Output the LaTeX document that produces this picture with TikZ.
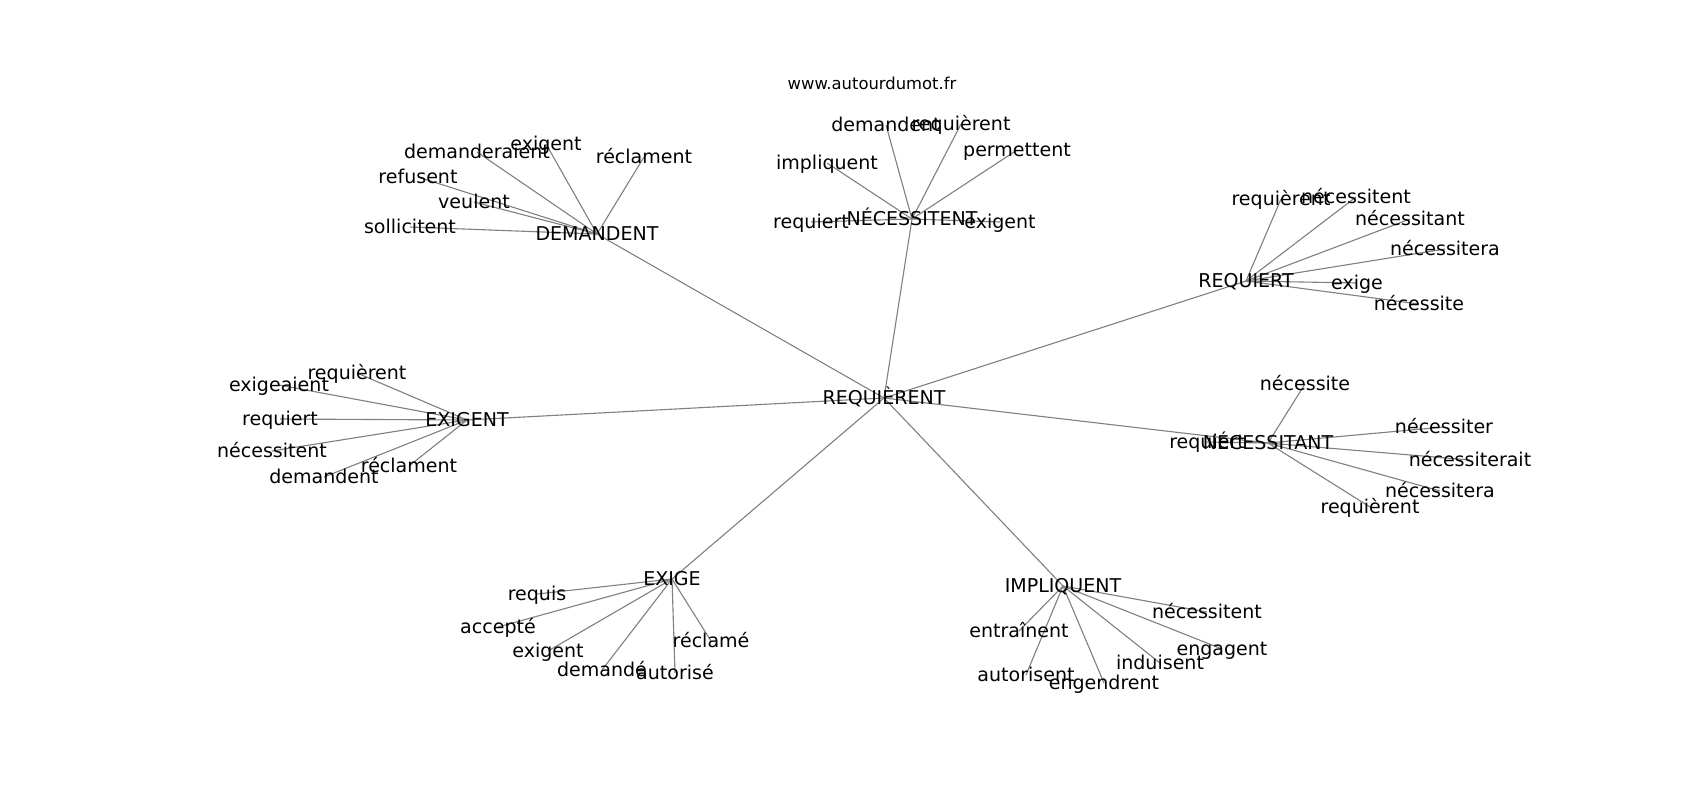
\documentclass[tikz,border=0pt]{standalone}
\usepackage{fontspec}
\setmainfont{DejaVu Sans}
\pgfdeclarelayer{background}
\pgfsetlayers{background,main}
\tikzset{
  lbl/.style={inner sep=0pt, anchor=center, text height=0.9em, text depth=0em, font=\fontsize{13.7pt}{16pt}\selectfont},
  ttl/.style={inner sep=0pt, anchor=center, font=\fontsize{11.8pt}{14pt}\selectfont},
  edge/.style={draw=gray, line width=0.8pt}
}
\begin{document}
\begin{tikzpicture}[x=0.72pt,y=-0.72pt]
\useasboundingbox (0,0) rectangle (1700,800);
\node[ttl] (title) at (872,83) {www.autourdumot.fr};
% hubs
\node[lbl] (R0) at (884,398) {REQUIÈRENT};
\node[lbl] (DEM) at (597,234) {DEMANDENT};
\node[lbl] (NEC) at (912,219) {NÉCESSITENT};
\node[lbl] (REQ) at (1246,281) {REQUIERT};
\node[lbl] (EXI) at (467,420) {EXIGENT};
\node[lbl] (NCT) at (1268,443) {NÉCESSITANT};
\node[lbl] (EXG) at (672,579) {EXIGE};
\node[lbl] (IMP) at (1063,586) {IMPLIQUENT};
% DEMANDENT leaves
\node[lbl] (d1) at (477,152) {demanderaient};
\node[lbl] (d2) at (546,144) {exigent};
\node[lbl] (d3) at (644,157) {réclament};
\node[lbl] (d4) at (418,177) {refusent};
\node[lbl] (d5) at (474,202) {veulent};
\node[lbl] (d6) at (410,227) {sollicitent};
% NECESSITENT leaves
\node[lbl] (n1) at (886,125) {demandent};
\node[lbl] (n2) at (961,124) {requièrent};
\node[lbl] (n3) at (1017,150) {permettent};
\node[lbl] (n4) at (827,163) {impliquent};
\node[lbl] (n5) at (811,222) {requiert};
\node[lbl] (n6) at (1000,222) {exigent};
% REQUIERT leaves
\node[lbl] (r1) at (1281,199) {requièrent};
\node[lbl] (r2) at (1356,197) {nécessitent};
\node[lbl] (r3) at (1410,219) {nécessitant};
\node[lbl] (r4) at (1445,249) {nécessitera};
\node[lbl] (r5) at (1357,283) {exige};
\node[lbl] (r6) at (1419,304) {nécessite};
% EXIGENT leaves
\node[lbl] (e1) at (357,373) {requièrent};
\node[lbl] (e2) at (279,385) {exigeaient};
\node[lbl] (e3) at (280,419) {requiert};
\node[lbl] (e4) at (272,451) {nécessitent};
\node[lbl] (e5) at (409,466) {réclament};
\node[lbl] (e6) at (324,477) {demandent};
% NECESSITANT leaves
\node[lbl] (t1) at (1305,384) {nécessite};
\node[lbl] (t2) at (1444,427) {nécessiter};
\node[lbl] (t3) at (1207,442) {requiert};
\node[lbl] (t4) at (1470,460) {nécessiterait};
\node[lbl] (t5) at (1440,491) {nécessitera};
\node[lbl] (t6) at (1370,507) {requièrent};
% EXIGE leaves
\node[lbl] (g1) at (537,594) {requis};
\node[lbl] (g2) at (498,627) {accepté};
\node[lbl] (g3) at (548,651) {exigent};
\node[lbl] (g4) at (602,670) {demandé};
\node[lbl] (g5) at (675,673) {autorisé};
\node[lbl] (g6) at (711,641) {réclamé};
% IMPLIQUENT leaves
\node[lbl] (i1) at (1207,612) {nécessitent};
\node[lbl] (i2) at (1019,631) {entraînent};
\node[lbl] (i3) at (1222,649) {engagent};
\node[lbl] (i4) at (1160,663) {induisent};
\node[lbl] (i5) at (1026,675) {autorisent};
\node[lbl] (i6) at (1104,683) {engendrent};
\begin{pgfonlayer}{background}
\foreach \h in {DEM,NEC,REQ,EXI,NCT,EXG,IMP}
  \draw[edge] (R0.center) -- (\h.center);
\foreach \l in {d1,d2,d3,d4,d5,d6}
  \draw[edge] (DEM.center) -- (\l.center);
\foreach \l in {n1,n2,n3,n4,n5,n6}
  \draw[edge] (NEC.center) -- (\l.center);
\foreach \l in {r1,r2,r3,r4,r5,r6}
  \draw[edge] (REQ.center) -- (\l.center);
\foreach \l in {e1,e2,e3,e4,e5,e6}
  \draw[edge] (EXI.center) -- (\l.center);
\foreach \l in {t1,t2,t3,t4,t5,t6}
  \draw[edge] (NCT.center) -- (\l.center);
\foreach \l in {g1,g2,g3,g4,g5,g6}
  \draw[edge] (EXG.center) -- (\l.center);
\foreach \l in {i1,i2,i3,i4,i5,i6}
  \draw[edge] (IMP.center) -- (\l.center);
\end{pgfonlayer}
\end{tikzpicture}
\end{document}
